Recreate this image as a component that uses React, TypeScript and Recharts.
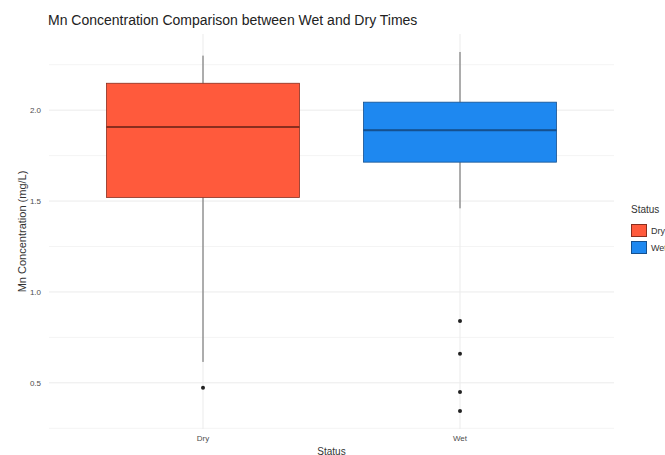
import React from 'react';
import { ComposedChart, Bar, Line, XAxis, YAxis, CartesianGrid, Legend } from 'recharts';

const categories = ['Dry', 'Wet'];
const lowerWhisker = [0.615, 1.46];
const q1 = [1.52, 1.714];
const median = [1.907, 1.89];
const q3 = [2.148, 2.044];
const upperWhisker = [2.30, 2.32];
const outliers: number[][] = [[0.473], [0.84, 0.66, 0.45, 0.345]];
const yTicks = [0.5, 1.0, 1.5, 2.0];
const yMinor = [0.25, 0.75, 1.25, 1.75, 2.25];
const yDomain = [0.246, 2.419];

const fills: Record<string, string> = { Dry: '#FF5A3C', Wet: '#1E88F0' };
const strokes: Record<string, string> = { Dry: '#8a2e1e', Wet: '#15508f' };

const data = categories.map((c, i) => {
  const row: any = {
    status: c,
    base: lowerWhisker[i],
    lowW: q1[i] - lowerWhisker[i],
    boxLow: median[i] - q1[i],
    boxHigh: q3[i] - median[i],
    upW: upperWhisker[i] - q3[i],
  };
  outliers[i].forEach((v, j) => {
    row['o' + (j + 1)] = v;
  });
  return row;
});

const FONT = '"Liberation Sans", Arial, sans-serif';

const Empty = () => null;

const Whisker = (props: any) => {
  const { x, y, width, height } = props;
  const cx = x + width / 2;
  return <line x1={cx} x2={cx} y1={y} y2={y + height} stroke="#555" strokeWidth={0.9} />;
};

const BoxLow = (props: any) => {
  const { x, y, width, height, payload } = props;
  const s = payload.status;
  return <rect x={x} y={y} width={width} height={height} fill={fills[s]} stroke={strokes[s]} strokeWidth={0.8} />;
};

const BoxHigh = (props: any) => {
  const { x, y, width, height, payload } = props;
  const s = payload.status;
  return (
    <g>
      <rect x={x} y={y} width={width} height={height} fill={fills[s]} stroke={strokes[s]} strokeWidth={0.8} />
      <line x1={x} x2={x + width} y1={y + height} y2={y + height} stroke={strokes[s]} strokeWidth={2} />
    </g>
  );
};

const YLabel = (props: any) => {
  const vb = props.viewBox || {};
  const cy = vb.y + vb.height / 2;
  return (
    <text x={22} y={cy} transform={`rotate(-90 22 ${cy})`} textAnchor="middle" dominantBaseline="central" fontSize={11} fill="#333" fontFamily={FONT}>
      Mn Concentration (mg/L)
    </text>
  );
};

const XLabel = (props: any) => {
  const vb = props.viewBox || {};
  const cx = vb.x + vb.width / 2;
  return (
    <text x={cx} y={451} textAnchor="middle" dominantBaseline="central" fontSize={10} fill="#333" fontFamily={FONT}>
      Status
    </text>
  );
};

const LegendContent = () => (
  <div style={{ width: 70, paddingLeft: 17, boxSizing: 'border-box', fontFamily: FONT, color: '#333' }}>
    <div style={{ fontSize: 10, lineHeight: '12px', marginBottom: 6 }}>Status</div>
    {categories.map((c) => (
      <div key={c} style={{ display: 'flex', alignItems: 'center', height: 17 }}>
        <div style={{ width: 16, height: 13, background: fills[c], border: `1px solid ${strokes[c]}`, boxSizing: 'border-box' }} />
        <span style={{ fontSize: 9, marginLeft: 4 }}>{c}</span>
      </div>
    ))}
  </div>
);

export default function App() {
  return (
    <div style={{ position: 'absolute', left: 0, top: 0, width: 665, height: 455, overflow: 'hidden', background: '#fff' }}>
      <div style={{ position: 'absolute', left: 48, top: 12, fontFamily: FONT, fontSize: 14, color: '#222', whiteSpace: 'nowrap' }}>
        Mn Concentration Comparison between Wet and Dry Times
      </div>
      <ComposedChart width={700} height={460} data={data} margin={{ top: 34, right: 16, bottom: 6, left: 0 }}>
        <CartesianGrid stroke="#F4F4F4" strokeWidth={1} horizontalValues={yMinor} vertical={false} />
        <CartesianGrid stroke="#EBEBEB" strokeWidth={1} horizontalValues={yTicks} verticalValues={categories} />
        <XAxis
          dataKey="status"
          type="category"
          padding={{ left: 25.5, right: 25.5 }}
          tickLine={false}
          axisLine={false}
          tickSize={0}
          tickMargin={6}
          height={25}
          tick={{ fontSize: 8, fill: '#4d4d4d', fontFamily: FONT }}
          label={<XLabel />}
        />
        <YAxis
          type="number"
          domain={yDomain}
          ticks={yTicks}
          allowDataOverflow
          width={49}
          tickLine={false}
          axisLine={false}
          tickFormatter={(v: number) => v.toFixed(1)}
          tick={{ fontSize: 8, fill: '#4d4d4d', fontFamily: FONT }}
          label={<YLabel />}
        />
        <Legend layout="vertical" align="right" verticalAlign="middle" content={<LegendContent />} />
        <Bar dataKey="base" stackId="a" barSize={193} shape={<Empty />} isAnimationActive={false} legendType="none" />
        <Bar dataKey="lowW" stackId="a" barSize={193} shape={<Whisker />} isAnimationActive={false} legendType="none" />
        <Bar dataKey="boxLow" stackId="a" barSize={193} shape={<BoxLow />} isAnimationActive={false} legendType="none" />
        <Bar dataKey="boxHigh" stackId="a" barSize={193} shape={<BoxHigh />} isAnimationActive={false} legendType="none" />
        <Bar dataKey="upW" stackId="a" barSize={193} shape={<Whisker />} isAnimationActive={false} legendType="none" />
        {['o1', 'o2', 'o3', 'o4'].map((k) => (
          <Line
            key={k}
            dataKey={k}
            stroke="none"
            strokeWidth={0}
            dot={{ r: 2, fill: '#222', stroke: 'none' }}
            activeDot={false}
            isAnimationActive={false}
            legendType="none"
          />
        ))}
      </ComposedChart>
    </div>
  );
}
